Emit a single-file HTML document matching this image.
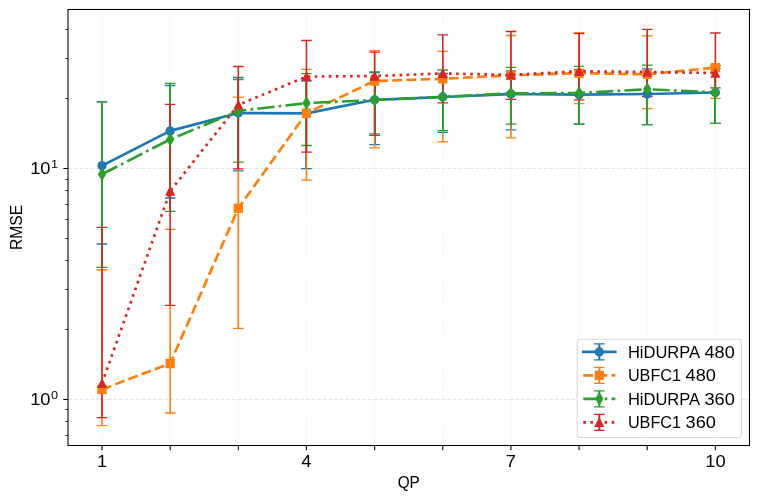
<!DOCTYPE html>
<html><head><meta charset="utf-8"><title>RMSE vs QP</title>
<style>html,body{margin:0;padding:0;background:#fff}body{width:759px;height:501px;overflow:hidden}</style></head>
<body>
<svg width="759" height="501" viewBox="0 0 759 501" style="display:block;will-change:transform;font-family:'Liberation Sans',sans-serif">
<rect width="759" height="501" fill="#fff"/>
<g fill="none" stroke-width="1.067">
<line x1="102.00" y1="445.5" x2="102.00" y2="9.5" stroke="#b0b0b0" stroke-opacity="0.22" stroke-dasharray="1.07 1.76"/>
<line x1="170.16" y1="445.5" x2="170.16" y2="9.5" stroke="#b0b0b0" stroke-opacity="0.22" stroke-dasharray="1.07 1.76"/>
<line x1="238.31" y1="445.5" x2="238.31" y2="9.5" stroke="#b0b0b0" stroke-opacity="0.22" stroke-dasharray="1.07 1.76"/>
<line x1="306.47" y1="445.5" x2="306.47" y2="9.5" stroke="#b0b0b0" stroke-opacity="0.22" stroke-dasharray="1.07 1.76"/>
<line x1="374.62" y1="445.5" x2="374.62" y2="9.5" stroke="#b0b0b0" stroke-opacity="0.22" stroke-dasharray="1.07 1.76"/>
<line x1="442.77" y1="445.5" x2="442.77" y2="9.5" stroke="#b0b0b0" stroke-opacity="0.22" stroke-dasharray="1.07 1.76"/>
<line x1="510.93" y1="445.5" x2="510.93" y2="9.5" stroke="#b0b0b0" stroke-opacity="0.22" stroke-dasharray="1.07 1.76"/>
<line x1="579.09" y1="445.5" x2="579.09" y2="9.5" stroke="#b0b0b0" stroke-opacity="0.22" stroke-dasharray="1.07 1.76"/>
<line x1="647.24" y1="445.5" x2="647.24" y2="9.5" stroke="#b0b0b0" stroke-opacity="0.22" stroke-dasharray="1.07 1.76"/>
<line x1="715.39" y1="445.5" x2="715.39" y2="9.5" stroke="#b0b0b0" stroke-opacity="0.22" stroke-dasharray="1.07 1.76"/>
<line x1="68.0" y1="399.40" x2="749.5" y2="399.40" stroke="#b0b0b0" stroke-opacity="0.32" stroke-dasharray="3.95 1.71"/>
<line x1="68.0" y1="168.50" x2="749.5" y2="168.50" stroke="#b0b0b0" stroke-opacity="0.32" stroke-dasharray="3.95 1.71"/>
</g>
<clipPath id="cp"><rect x="68.0" y="9.5" width="681.5" height="436.0"/></clipPath>
<g clip-path="url(#cp)">
<g stroke="#1f77b4" fill="none">
<path d="M102.00 244.00V101.90M170.00 198.00V85.60M238.00 170.80V77.50M306.00 168.70V80.90M375.00 144.60V72.50M443.00 132.40V73.40M511.00 129.90V70.90M579.00 124.10V70.00M647.00 124.60V68.80M715.00 123.30V65.50" stroke-width="2.0" stroke-opacity="1.0"/>
<path d="M96.67 244.00h10.67M96.67 101.90h10.67M164.82 198.00h10.67M164.82 85.60h10.67M232.98 170.80h10.67M232.98 77.50h10.67M301.14 168.70h10.67M301.14 80.90h10.67M369.29 144.60h10.67M369.29 72.50h10.67M437.44 132.40h10.67M437.44 73.40h10.67M505.60 129.90h10.67M505.60 70.90h10.67M573.75 124.10h10.67M573.75 70.00h10.67M641.91 124.60h10.67M641.91 68.80h10.67M710.06 123.30h10.67M710.06 65.50h10.67" stroke-width="1.333" stroke-opacity="1.0"/>
</g>
<g stroke="#ff7f0e" fill="none">
<path d="M102.00 425.70V270.00M170.16 413.00V229.40M238.31 328.30V97.10M306.47 180.20V69.30M374.62 147.90V50.60M442.77 141.90V51.40M510.93 137.80V35.50M579.09 103.70V32.60M647.24 108.60V35.80M715.39 98.30V66.00" stroke-width="1.6" stroke-opacity="1.0"/>
<path d="M96.67 425.70h10.67M96.67 270.00h10.67M164.82 413.00h10.67M164.82 229.40h10.67M232.98 328.30h10.67M232.98 97.10h10.67M301.14 180.20h10.67M301.14 69.30h10.67M369.29 147.90h10.67M369.29 50.60h10.67M437.44 141.90h10.67M437.44 51.40h10.67M505.60 137.80h10.67M505.60 35.50h10.67M573.75 103.70h10.67M573.75 32.60h10.67M641.91 108.60h10.67M641.91 35.80h10.67M710.06 98.30h10.67M710.06 66.00h10.67" stroke-width="1.333" stroke-opacity="1.0"/>
</g>
<g stroke="#2ca02c" fill="none">
<path d="M102.00 267.40V101.90M170.00 211.40V83.50M238.00 162.20V79.50M306.00 145.50V73.70M375.00 133.80V71.90M443.00 130.70V70.00M511.00 124.10V67.30M579.00 124.10V66.40M647.00 124.60V65.20M715.00 123.30V68.60" stroke-width="2.0" stroke-opacity="1.0"/>
<path d="M96.67 267.40h10.67M96.67 101.90h10.67M164.82 211.40h10.67M164.82 83.50h10.67M232.98 162.20h10.67M232.98 79.50h10.67M301.14 145.50h10.67M301.14 73.70h10.67M369.29 133.80h10.67M369.29 71.90h10.67M437.44 130.70h10.67M437.44 70.00h10.67M505.60 124.10h10.67M505.60 67.30h10.67M573.75 124.10h10.67M573.75 66.40h10.67M641.91 124.60h10.67M641.91 65.20h10.67M710.06 123.30h10.67M710.06 68.60h10.67" stroke-width="1.333" stroke-opacity="1.0"/>
</g>
<g stroke="#d62728" fill="none">
<path d="M102.00 417.60V227.40M170.16 305.40V104.30M238.31 168.90V66.50M306.47 152.20V40.50M374.62 135.30V52.10M442.77 102.80V34.80M510.93 99.40V31.50M579.09 99.90V33.60M647.24 96.60V29.30M715.39 87.80V33.00" stroke-width="1.6" stroke-opacity="1.0"/>
<path d="M96.67 417.60h10.67M96.67 227.40h10.67M164.82 305.40h10.67M164.82 104.30h10.67M232.98 168.90h10.67M232.98 66.50h10.67M301.14 152.20h10.67M301.14 40.50h10.67M369.29 135.30h10.67M369.29 52.10h10.67M437.44 102.80h10.67M437.44 34.80h10.67M505.60 99.40h10.67M505.60 31.50h10.67M573.75 99.90h10.67M573.75 33.60h10.67M641.91 96.60h10.67M641.91 29.30h10.67M710.06 87.80h10.67M710.06 33.00h10.67" stroke-width="1.333" stroke-opacity="1.0"/>
</g>
<polyline points="102.00,165.60 170.16,130.90 238.31,113.00 306.47,113.40 374.62,99.80 442.77,97.00 510.93,94.00 579.09,94.60 647.24,94.00 715.39,92.50" fill="none" stroke="#1f77b4" stroke-width="2.667" stroke-linejoin="round" stroke-linecap="square"/>
<circle cx="102.00" cy="165.60" r="4.00" fill="#1f77b4" stroke="#1f77b4" stroke-width="1.333"/>
<circle cx="170.16" cy="130.90" r="4.00" fill="#1f77b4" stroke="#1f77b4" stroke-width="1.333"/>
<circle cx="238.31" cy="113.00" r="4.00" fill="#1f77b4" stroke="#1f77b4" stroke-width="1.333"/>
<circle cx="306.47" cy="113.40" r="4.00" fill="#1f77b4" stroke="#1f77b4" stroke-width="1.333"/>
<circle cx="374.62" cy="99.80" r="4.00" fill="#1f77b4" stroke="#1f77b4" stroke-width="1.333"/>
<circle cx="442.77" cy="97.00" r="4.00" fill="#1f77b4" stroke="#1f77b4" stroke-width="1.333"/>
<circle cx="510.93" cy="94.00" r="4.00" fill="#1f77b4" stroke="#1f77b4" stroke-width="1.333"/>
<circle cx="579.09" cy="94.60" r="4.00" fill="#1f77b4" stroke="#1f77b4" stroke-width="1.333"/>
<circle cx="647.24" cy="94.00" r="4.00" fill="#1f77b4" stroke="#1f77b4" stroke-width="1.333"/>
<circle cx="715.39" cy="92.50" r="4.00" fill="#1f77b4" stroke="#1f77b4" stroke-width="1.333"/>
<polyline points="102.00,389.40 170.16,363.50 238.31,208.20 306.47,113.10 374.62,81.00 442.77,78.80 510.93,75.30 579.09,73.20 647.24,74.30 715.39,67.60" fill="none" stroke="#ff7f0e" stroke-width="2.667" stroke-linejoin="round" stroke-linecap="butt" stroke-dasharray="9.87 4.27"/>
<rect x="98.00" y="385.40" width="8.0" height="8.0" fill="#ff7f0e" stroke="#ff7f0e" stroke-width="1.333" stroke-linejoin="miter"/>
<rect x="166.16" y="359.50" width="8.0" height="8.0" fill="#ff7f0e" stroke="#ff7f0e" stroke-width="1.333" stroke-linejoin="miter"/>
<rect x="234.31" y="204.20" width="8.0" height="8.0" fill="#ff7f0e" stroke="#ff7f0e" stroke-width="1.333" stroke-linejoin="miter"/>
<rect x="302.47" y="109.10" width="8.0" height="8.0" fill="#ff7f0e" stroke="#ff7f0e" stroke-width="1.333" stroke-linejoin="miter"/>
<rect x="370.62" y="77.00" width="8.0" height="8.0" fill="#ff7f0e" stroke="#ff7f0e" stroke-width="1.333" stroke-linejoin="miter"/>
<rect x="438.77" y="74.80" width="8.0" height="8.0" fill="#ff7f0e" stroke="#ff7f0e" stroke-width="1.333" stroke-linejoin="miter"/>
<rect x="506.93" y="71.30" width="8.0" height="8.0" fill="#ff7f0e" stroke="#ff7f0e" stroke-width="1.333" stroke-linejoin="miter"/>
<rect x="575.09" y="69.20" width="8.0" height="8.0" fill="#ff7f0e" stroke="#ff7f0e" stroke-width="1.333" stroke-linejoin="miter"/>
<rect x="643.24" y="70.30" width="8.0" height="8.0" fill="#ff7f0e" stroke="#ff7f0e" stroke-width="1.333" stroke-linejoin="miter"/>
<rect x="711.39" y="63.60" width="8.0" height="8.0" fill="#ff7f0e" stroke="#ff7f0e" stroke-width="1.333" stroke-linejoin="miter"/>
<polyline points="102.00,174.30 170.16,139.40 238.31,110.90 306.47,103.10 374.62,100.00 442.77,96.90 510.93,93.40 579.09,93.00 647.24,89.30 715.39,92.30" fill="none" stroke="#2ca02c" stroke-width="2.667" stroke-linejoin="round" stroke-linecap="butt" stroke-dasharray="17.07 4.27 2.67 4.27"/>
<path d="M102.00 168.64L105.39 174.30L102.00 179.96L98.61 174.30Z" fill="#2ca02c" stroke="#2ca02c" stroke-width="1.333" stroke-linejoin="miter"/>
<path d="M170.16 133.74L173.55 139.40L170.16 145.06L166.76 139.40Z" fill="#2ca02c" stroke="#2ca02c" stroke-width="1.333" stroke-linejoin="miter"/>
<path d="M238.31 105.24L241.70 110.90L238.31 116.56L234.92 110.90Z" fill="#2ca02c" stroke="#2ca02c" stroke-width="1.333" stroke-linejoin="miter"/>
<path d="M306.47 97.44L309.86 103.10L306.47 108.76L303.07 103.10Z" fill="#2ca02c" stroke="#2ca02c" stroke-width="1.333" stroke-linejoin="miter"/>
<path d="M374.62 94.34L378.01 100.00L374.62 105.66L371.23 100.00Z" fill="#2ca02c" stroke="#2ca02c" stroke-width="1.333" stroke-linejoin="miter"/>
<path d="M442.77 91.24L446.17 96.90L442.77 102.56L439.38 96.90Z" fill="#2ca02c" stroke="#2ca02c" stroke-width="1.333" stroke-linejoin="miter"/>
<path d="M510.93 87.74L514.32 93.40L510.93 99.06L507.54 93.40Z" fill="#2ca02c" stroke="#2ca02c" stroke-width="1.333" stroke-linejoin="miter"/>
<path d="M579.09 87.34L582.48 93.00L579.09 98.66L575.69 93.00Z" fill="#2ca02c" stroke="#2ca02c" stroke-width="1.333" stroke-linejoin="miter"/>
<path d="M647.24 83.64L650.63 89.30L647.24 94.96L643.85 89.30Z" fill="#2ca02c" stroke="#2ca02c" stroke-width="1.333" stroke-linejoin="miter"/>
<path d="M715.39 86.64L718.79 92.30L715.39 97.96L712.00 92.30Z" fill="#2ca02c" stroke="#2ca02c" stroke-width="1.333" stroke-linejoin="miter"/>
<polyline points="102.00,383.40 170.16,191.10 238.31,104.90 306.47,76.60 374.62,76.00 442.77,73.50 510.93,74.90 579.09,71.30 647.24,72.00 715.39,73.00" fill="none" stroke="#d62728" stroke-width="2.667" stroke-linejoin="round" stroke-linecap="butt" stroke-dasharray="2.67 4.40"/>
<path d="M102.00 379.40L106.00 387.40L98.00 387.40Z" fill="#d62728" stroke="#d62728" stroke-width="1.333" stroke-linejoin="miter"/>
<path d="M170.16 187.10L174.16 195.10L166.16 195.10Z" fill="#d62728" stroke="#d62728" stroke-width="1.333" stroke-linejoin="miter"/>
<path d="M238.31 100.90L242.31 108.90L234.31 108.90Z" fill="#d62728" stroke="#d62728" stroke-width="1.333" stroke-linejoin="miter"/>
<path d="M306.47 72.60L310.47 80.60L302.47 80.60Z" fill="#d62728" stroke="#d62728" stroke-width="1.333" stroke-linejoin="miter"/>
<path d="M374.62 72.00L378.62 80.00L370.62 80.00Z" fill="#d62728" stroke="#d62728" stroke-width="1.333" stroke-linejoin="miter"/>
<path d="M442.77 69.50L446.77 77.50L438.77 77.50Z" fill="#d62728" stroke="#d62728" stroke-width="1.333" stroke-linejoin="miter"/>
<path d="M510.93 70.90L514.93 78.90L506.93 78.90Z" fill="#d62728" stroke="#d62728" stroke-width="1.333" stroke-linejoin="miter"/>
<path d="M579.09 67.30L583.09 75.30L575.09 75.30Z" fill="#d62728" stroke="#d62728" stroke-width="1.333" stroke-linejoin="miter"/>
<path d="M647.24 68.00L651.24 76.00L643.24 76.00Z" fill="#d62728" stroke="#d62728" stroke-width="1.333" stroke-linejoin="miter"/>
<path d="M715.39 69.00L719.39 77.00L711.39 77.00Z" fill="#d62728" stroke="#d62728" stroke-width="1.333" stroke-linejoin="miter"/>
</g>
<rect x="68.0" y="9.5" width="681.5" height="436.0" fill="none" stroke="#000" stroke-width="1.067"/>
<g stroke="#000" fill="none">
<path d="M102.00 445.5v4.67M170.16 445.5v4.67M238.31 445.5v4.67M306.47 445.5v4.67M374.62 445.5v4.67M442.77 445.5v4.67M510.93 445.5v4.67M579.09 445.5v4.67M647.24 445.5v4.67M715.39 445.5v4.67" stroke-width="1.067"/>
<path d="M68.0 399.5h-4.67M68.0 168.5h-4.67" stroke-width="1.067"/>
<path d="M68.0 435.5h-2.67M68.0 421.5h-2.67M68.0 409.5h-2.67M68.0 329.5h-2.67M68.0 289.5h-2.67M68.0 260.5h-2.67M68.0 238.5h-2.67M68.0 219.5h-2.67M68.0 204.5h-2.67M68.0 190.5h-2.67M68.0 179.5h-2.67M68.0 98.5h-2.67M68.0 58.5h-2.67M68.0 29.5h-2.67" stroke-width="0.8"/>
</g>
<text x="102.00" y="467.40" font-size="16.2" text-anchor="middle" textLength="10.18" lengthAdjust="spacingAndGlyphs">1</text>
<text x="306.47" y="467.40" font-size="16.2" text-anchor="middle" textLength="10.18" lengthAdjust="spacingAndGlyphs">4</text>
<text x="510.93" y="467.40" font-size="16.2" text-anchor="middle" textLength="10.18" lengthAdjust="spacingAndGlyphs">7</text>
<text x="715.39" y="467.40" font-size="16.2" text-anchor="middle" textLength="20.36" lengthAdjust="spacingAndGlyphs">10</text>
<text x="30.20" y="405.10" font-size="16.2" text-anchor="start" textLength="20.36" lengthAdjust="spacingAndGlyphs">10</text>
<text x="50.90" y="399.20" font-size="11.3" text-anchor="start" textLength="7.13" lengthAdjust="spacingAndGlyphs">0</text>
<text x="30.20" y="174.10" font-size="16.2" text-anchor="start" textLength="20.36" lengthAdjust="spacingAndGlyphs">10</text>
<text x="50.90" y="168.20" font-size="11.3" text-anchor="start" textLength="7.13" lengthAdjust="spacingAndGlyphs">1</text>
<text x="408.75" y="488.00" font-size="16.2" text-anchor="middle" textLength="22.2" lengthAdjust="spacingAndGlyphs">QP</text>
<text transform="translate(22.0,227.5) rotate(-90)" font-size="16.2" text-anchor="middle" textLength="45.2" lengthAdjust="spacingAndGlyphs">RMSE</text>
<rect x="577.2" y="339.2" width="164.2" height="98.3" rx="3.2" ry="3.2" fill="#fff" fill-opacity="0.8" stroke="#ccc" stroke-opacity="0.8" stroke-width="1.067"/>
<g stroke="#1f77b4" fill="none"><path d="M599.3 343.95V359.95" stroke-width="2.0" stroke-opacity="1.0"/><path d="M593.9699999999999 343.95h10.67M593.9699999999999 359.95h10.67" stroke-width="1.333" stroke-opacity="1.0"/></g>
<path d="M583.3 351.95H615.3" fill="none" stroke="#1f77b4" stroke-width="2.667" stroke-linecap="square"/>
<circle cx="599.30" cy="351.95" r="4.00" fill="#1f77b4" stroke="#1f77b4" stroke-width="1.333"/>
<text x="627.90" y="357.85" font-size="16.2" text-anchor="start" textLength="72.22" lengthAdjust="spacingAndGlyphs">HiDURPA</text>
<text x="704.52" y="357.85" font-size="16.2" text-anchor="start" textLength="30.3" lengthAdjust="spacingAndGlyphs">480</text>
<g stroke="#ff7f0e" fill="none"><path d="M599.3 367.35V383.35" stroke-width="2.0" stroke-opacity="1.0"/><path d="M593.9699999999999 367.35h10.67M593.9699999999999 383.35h10.67" stroke-width="1.333" stroke-opacity="1.0"/></g>
<path d="M583.3 375.35H615.3" fill="none" stroke="#ff7f0e" stroke-width="2.667" stroke-linecap="butt" stroke-dasharray="9.87 4.27"/>
<rect x="595.30" y="371.35" width="8.0" height="8.0" fill="#ff7f0e" stroke="#ff7f0e" stroke-width="1.333" stroke-linejoin="miter"/>
<text x="627.90" y="381.25" font-size="16.2" text-anchor="start" textLength="53.24" lengthAdjust="spacingAndGlyphs">UBFC1</text>
<text x="685.54" y="381.25" font-size="16.2" text-anchor="start" textLength="30.3" lengthAdjust="spacingAndGlyphs">480</text>
<g stroke="#2ca02c" fill="none"><path d="M599.3 390.8V406.8" stroke-width="2.0" stroke-opacity="1.0"/><path d="M593.9699999999999 390.8h10.67M593.9699999999999 406.8h10.67" stroke-width="1.333" stroke-opacity="1.0"/></g>
<path d="M583.3 398.8H615.3" fill="none" stroke="#2ca02c" stroke-width="2.667" stroke-linecap="butt" stroke-dasharray="17.07 4.27 2.67 4.27"/>
<path d="M599.30 393.14L602.69 398.80L599.30 404.46L595.91 398.80Z" fill="#2ca02c" stroke="#2ca02c" stroke-width="1.333" stroke-linejoin="miter"/>
<text x="627.90" y="404.70" font-size="16.2" text-anchor="start" textLength="72.22" lengthAdjust="spacingAndGlyphs">HiDURPA</text>
<text x="704.52" y="404.70" font-size="16.2" text-anchor="start" textLength="30.3" lengthAdjust="spacingAndGlyphs">360</text>
<g stroke="#d62728" fill="none"><path d="M599.3 414.4V430.4" stroke-width="2.0" stroke-opacity="1.0"/><path d="M593.9699999999999 414.4h10.67M593.9699999999999 430.4h10.67" stroke-width="1.333" stroke-opacity="1.0"/></g>
<path d="M583.3 422.4H615.3" fill="none" stroke="#d62728" stroke-width="2.667" stroke-linecap="butt" stroke-dasharray="2.67 4.40"/>
<path d="M599.30 418.40L603.30 426.40L595.30 426.40Z" fill="#d62728" stroke="#d62728" stroke-width="1.333" stroke-linejoin="miter"/>
<text x="627.90" y="428.30" font-size="16.2" text-anchor="start" textLength="53.24" lengthAdjust="spacingAndGlyphs">UBFC1</text>
<text x="685.54" y="428.30" font-size="16.2" text-anchor="start" textLength="30.3" lengthAdjust="spacingAndGlyphs">360</text>
</svg>
</body></html>
